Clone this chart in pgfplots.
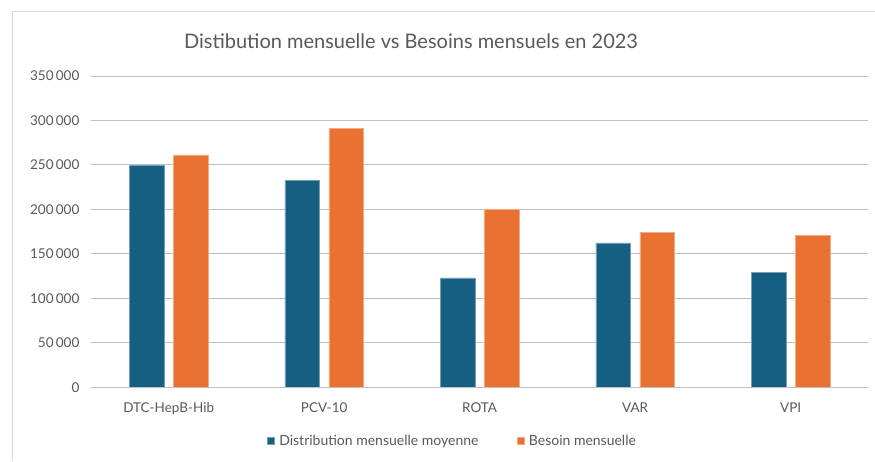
\documentclass[border=0pt]{standalone}
\usepackage{pgfplots}
\pgfplotsset{compat=1.18}
\usepackage{fontspec}
\setmainfont{Lato}
\definecolor{cblue}{HTML}{156082}
\definecolor{corange}{HTML}{E97132}
\definecolor{txt}{HTML}{595959}
\definecolor{grid}{HTML}{D9D9D9}
\begin{document}
\begin{tikzpicture}[x=1pt,y=1pt]
\useasboundingbox (0,0) rectangle (875,461);
\fill[white] (0,0) rectangle (875,461);
\draw[grid, line width=1.2pt] (12.5,0) -- (12.5,449.5) -- (875,449.5);
\node[txt, font=\fontsize{20}{24}\selectfont] at (411,419.5) {Distibution mensuelle vs Besoins mensuels en 2023};
\begin{axis}[
  at={(90.9pt,73.7pt)}, anchor=south west,
  scale only axis, width=777.5pt, height=311.3pt,
  xmin=-0.5, xmax=4.5, ymin=0, ymax=350000,
  xtick=data,
  xticklabels={DTC-HepB-Hib, PCV-10, ROTA, VAR, VPI},
  ytick={0,50000,100000,150000,200000,250000,300000,350000},
  yticklabels={0, 50\,000, 100\,000, 150\,000, 200\,000, 250\,000, 300\,000, 350\,000},
  scaled y ticks=false,
  axis line style={draw=none},
  xmajorgrids=false, ymajorgrids=true,
  grid style={grid, line width=1pt},
  major tick length=0pt, tick style={draw=none},
  tick label style={txt, font=\fontsize{13.5}{16}\selectfont},
  yticklabel style={xshift=-8pt},
  xticklabel style={yshift=-12pt},
  ybar, bar width=34.5pt,
  legend style={at={(0.465,-0.1725)}, anchor=center, draw=none, fill=none,
    legend columns=2, font=\fontsize{14}{16}\selectfont, text=txt,
    /tikz/every even column/.append style={column sep=36pt}},
  legend image code/.code={\fill[#1] (0pt,-3.5pt) rectangle (7pt,3.5pt);},
  legend cell align=left,
  clip=false,
]
\addplot[fill=cblue, draw=cblue!60!white, line width=0.4pt, bar shift=-22pt] coordinates {(0,249200) (1,232700) (2,123100) (3,162300) (4,129100)};
\addplot[fill=corange, draw=corange!60!white, line width=0.4pt, bar shift=22pt] coordinates {(0,261200) (1,291500) (2,200300) (3,173900) (4,171000)};
\draw[black!25, line width=1pt] (rel axis cs:0,0) -- (rel axis cs:1,0);
\addlegendentry{\hspace{3pt}Distribution mensuelle moyenne}
\addlegendentry{\hspace{3pt}Besoin mensuelle}
\end{axis}
\end{tikzpicture}
\end{document}
